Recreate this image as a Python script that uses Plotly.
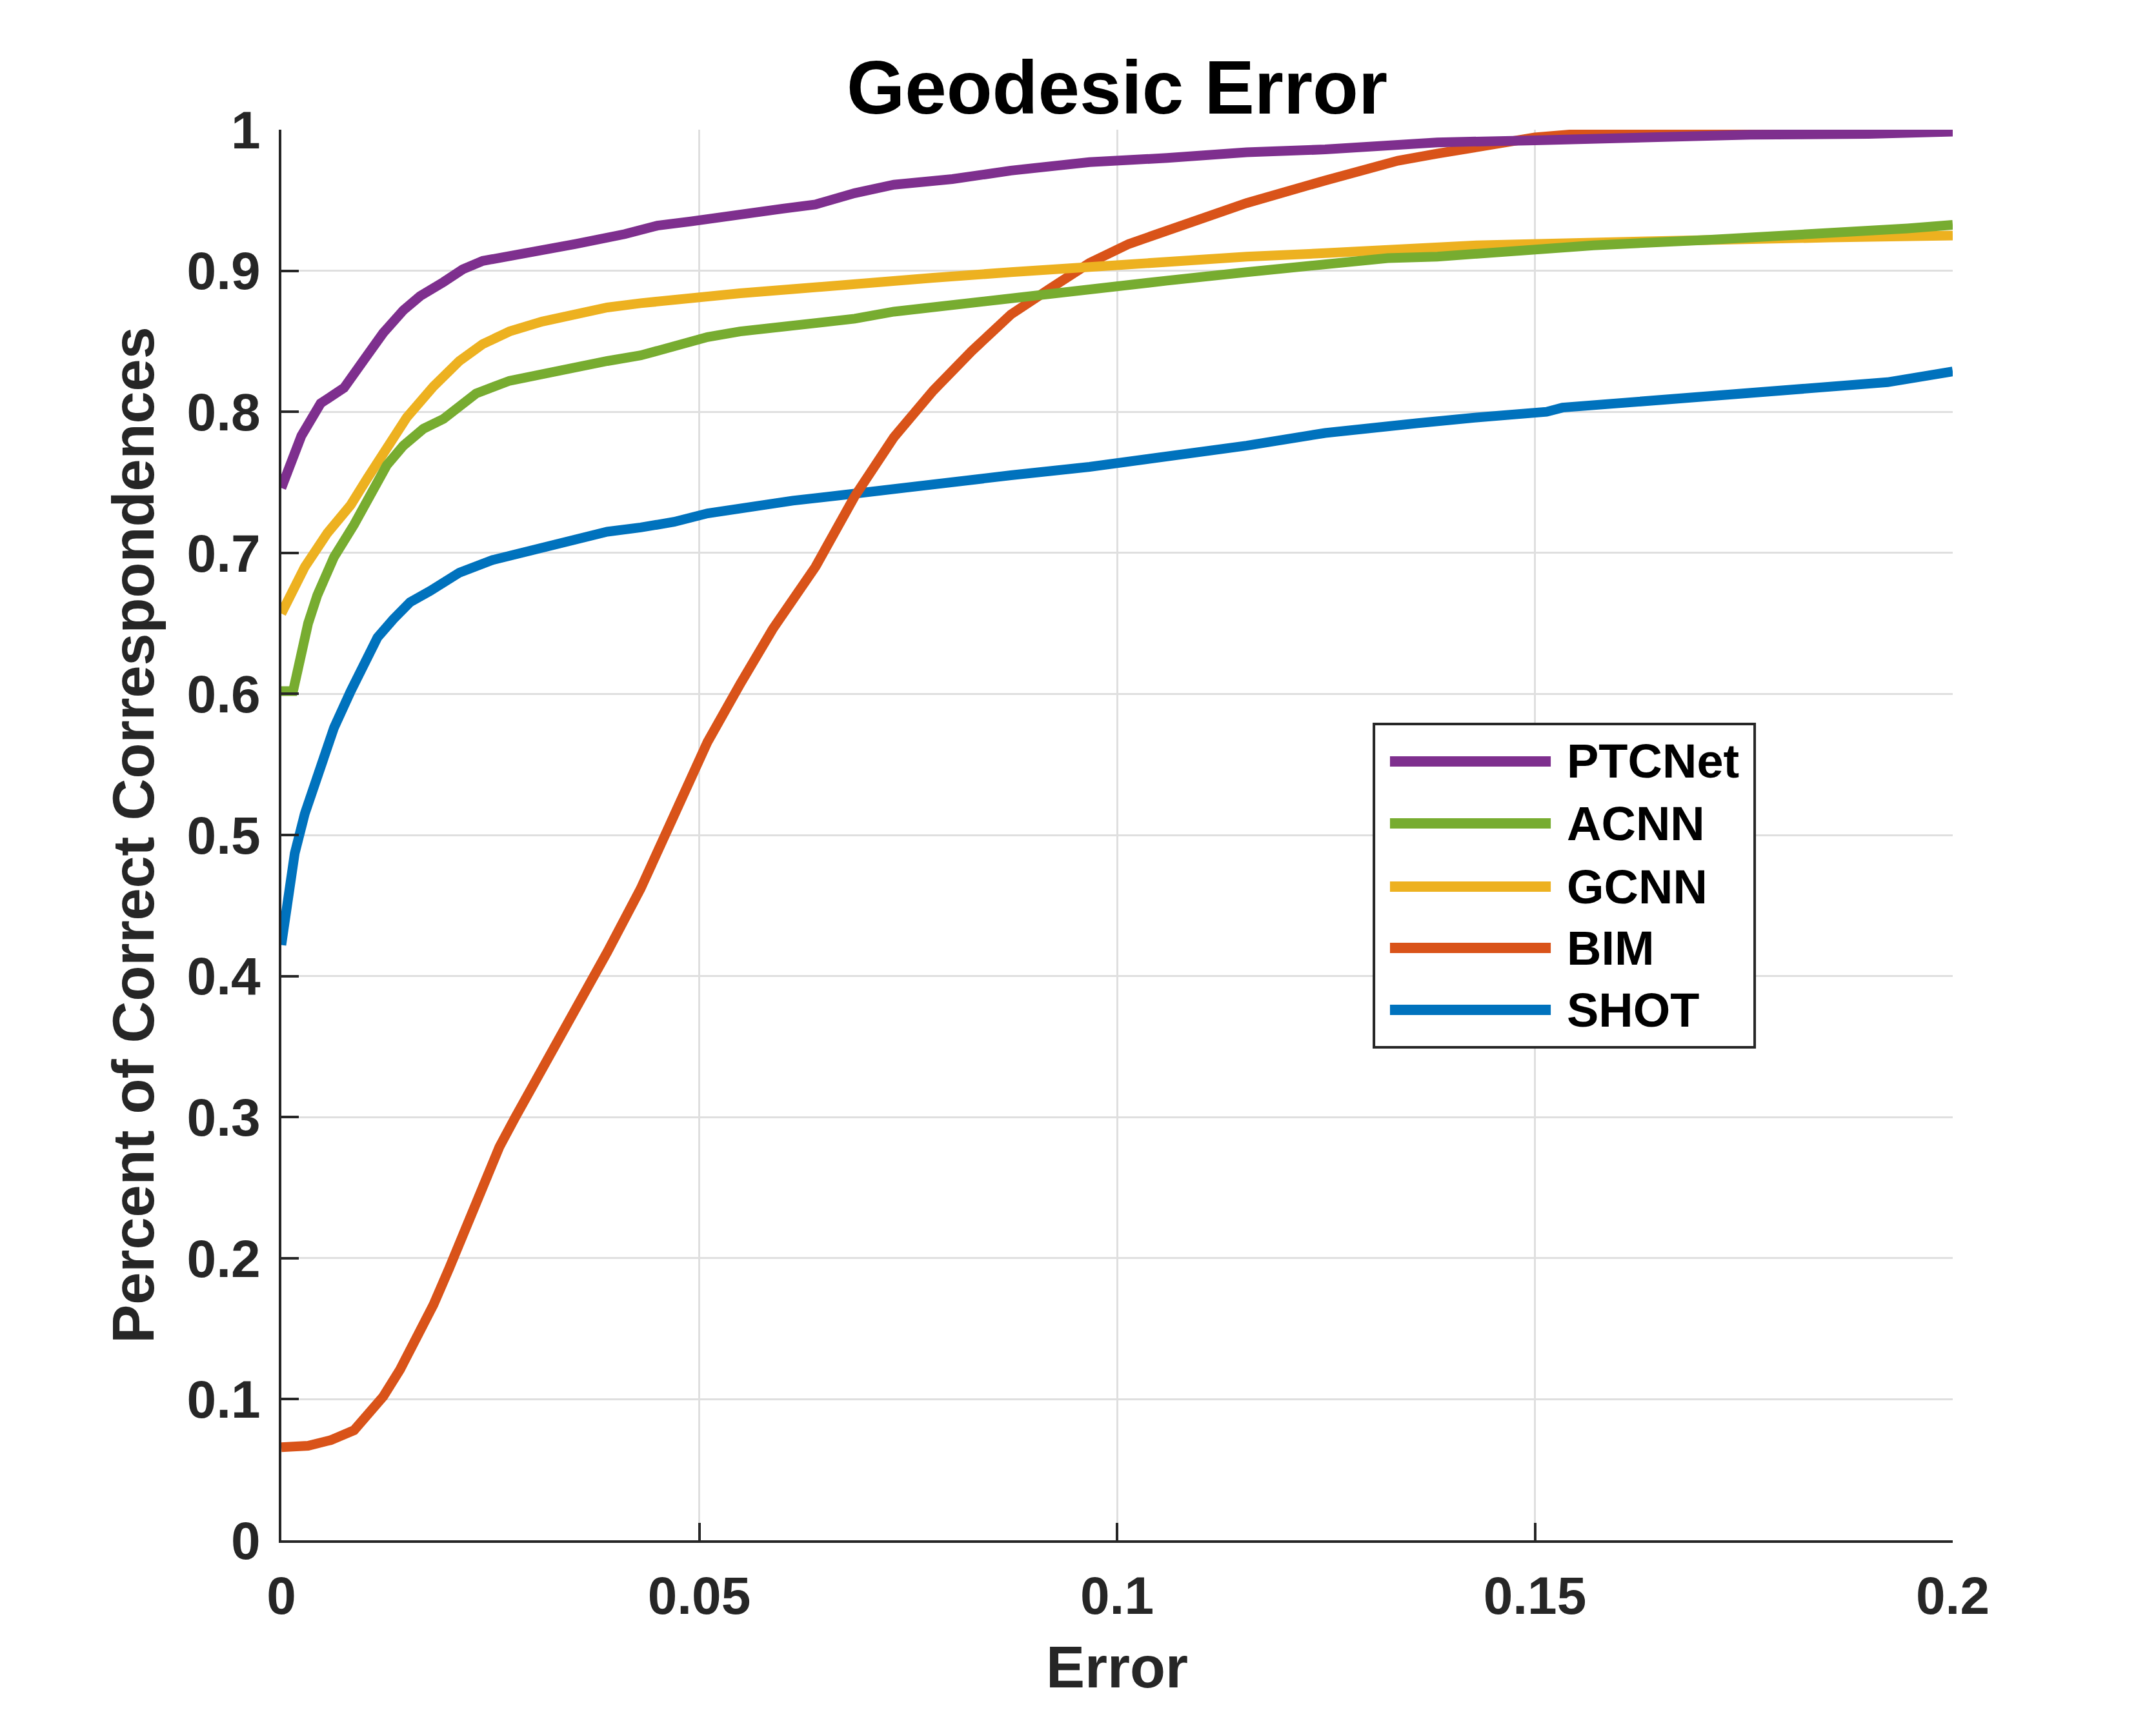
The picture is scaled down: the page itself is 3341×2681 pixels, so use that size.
import plotly.graph_objects as go

# values
ptcnet_x = [0, 0.0012, 0.0024, 0.0047, 0.0075, 0.0099, 0.0122, 0.0146, 0.0166, 0.0194, 0.0217, 0.0241,
            0.0273, 0.0312, 0.0352, 0.0411, 0.045, 0.049, 0.0549, 0.060, 0.0639, 0.0686, 0.0733, 0.0803,
            0.0873, 0.0967, 0.106, 0.1155, 0.1249, 0.1324, 0.1383, 0.150, 0.1617, 0.1758, 0.1899, 0.2]
ptcnet_y = [0.746, 0.764, 0.783, 0.806, 0.817, 0.837, 0.856, 0.872, 0.882, 0.892, 0.901, 0.907,
            0.910, 0.915, 0.919, 0.926, 0.932, 0.935, 0.939, 0.944, 0.947, 0.955, 0.961, 0.965,
            0.971, 0.977, 0.980, 0.984, 0.986, 0.989, 0.991, 0.9925, 0.9945, 0.9964, 0.997, 0.9986]

acnn_x = [0, 0.0014, 0.002, 0.0032, 0.0043, 0.0063, 0.0087, 0.011, 0.0126, 0.0146, 0.017, 0.0194,
          0.0217, 0.0233, 0.0273, 0.0312, 0.0352, 0.039, 0.043, 0.047, 0.051, 0.0549, 0.0612, 0.0639,
          0.0686, 0.0733, 0.0803, 0.0873, 0.0967, 0.106, 0.1155, 0.1249, 0.1324, 0.1383, 0.150, 0.157,
          0.1711, 0.1852, 0.1946, 0.2]
acnn_y = [0.602, 0.602, 0.618, 0.650, 0.670, 0.697, 0.720, 0.746, 0.762, 0.776, 0.788, 0.795,
          0.806, 0.813, 0.822, 0.827, 0.832, 0.836, 0.840, 0.846, 0.853, 0.857, 0.861, 0.862,
          0.866, 0.871, 0.876, 0.881, 0.8875, 0.893, 0.899, 0.905, 0.909, 0.910, 0.915, 0.918,
          0.922, 0.926, 0.930, 0.9325]

gcnn_x = [0, 0.0028, 0.0055, 0.0083, 0.0103, 0.0122, 0.015, 0.0182, 0.0213, 0.0241, 0.0273, 0.0312,
          0.0352, 0.039, 0.043, 0.049, 0.0549, 0.0612, 0.0686, 0.078, 0.0873, 0.0967, 0.106, 0.1155,
          0.1249, 0.1324, 0.143, 0.157, 0.1711, 0.1852, 0.2]
gcnn_y = [0.657, 0.690, 0.714, 0.734, 0.753, 0.771, 0.796, 0.818, 0.836, 0.848, 0.857, 0.864,
          0.870, 0.874, 0.877, 0.881, 0.884, 0.887, 0.891, 0.895, 0.899, 0.903, 0.906, 0.910,
          0.9125, 0.9145, 0.918, 0.920, 0.921, 0.9236, 0.925]

bim_x = [0, 0.0032, 0.0059, 0.0087, 0.0122, 0.0142, 0.0162, 0.0182, 0.0201, 0.0221, 0.0241, 0.0261,
         0.028, 0.0316, 0.0352, 0.039, 0.043, 0.047, 0.051, 0.0549, 0.0588, 0.0639, 0.0686, 0.0733,
         0.078, 0.0826, 0.0873, 0.092, 0.0967, 0.1014, 0.106, 0.1155, 0.1249, 0.1289, 0.1336, 0.1383,
         0.143, 0.150, 0.157, 0.1664, 0.2]
bim_y = [0.066, 0.067, 0.071, 0.078, 0.102, 0.121, 0.144, 0.167, 0.193, 0.221, 0.251, 0.279,
         0.300, 0.338, 0.378, 0.417, 0.462, 0.515, 0.566, 0.607, 0.646, 0.690, 0.740, 0.782,
         0.815, 0.843, 0.869, 0.8875, 0.9055, 0.919, 0.929, 0.948, 0.964, 0.971, 0.978, 0.983,
         0.988, 0.9945, 0.998, 1.0, 1.0]

shot_x = [0, 0.0008, 0.0016, 0.0028, 0.0043, 0.0063, 0.0083, 0.0103, 0.0115, 0.0134, 0.0154, 0.0178,
          0.0213, 0.0253, 0.0312, 0.0352, 0.039, 0.043, 0.047, 0.051, 0.0549, 0.0612, 0.0686, 0.078,
          0.0873, 0.0967, 0.106, 0.1155, 0.1249, 0.1289, 0.136, 0.143, 0.1514, 0.1533, 0.1641, 0.1758,
          0.1852, 0.1922, 0.2]
shot_y = [0.422, 0.455, 0.487, 0.515, 0.543, 0.576, 0.602, 0.625, 0.640, 0.653, 0.665, 0.673,
          0.686, 0.695, 0.704, 0.710, 0.715, 0.718, 0.722, 0.728, 0.732, 0.737, 0.742, 0.749,
          0.755, 0.761, 0.768, 0.776, 0.785, 0.788, 0.792, 0.796, 0.800, 0.803, 0.808, 0.812,
          0.8167, 0.821, 0.8286]

series_names = ['PTCNet', 'ACNN', 'GCNN', 'BIM', 'SHOT']
series_colors = ['#7E2F8E', '#77AC30', '#EDB120', '#D95319', '#0072BD']
series_x = [ptcnet_x, acnn_x, gcnn_x, bim_x, shot_x]
series_y = [ptcnet_y, acnn_y, gcnn_y, bim_y, shot_y]

x_ticks = [0, 0.05, 0.1, 0.15, 0.2]
x_tick_labels = ['0', '0.05', '0.1', '0.15', '0.2']
y_ticks = [0, 0.1, 0.2, 0.3, 0.4, 0.5, 0.6, 0.7, 0.8, 0.9, 1]
y_tick_labels = ['0', '0.1', '0.2', '0.3', '0.4', '0.5', '0.6', '0.7', '0.8', '0.9', '1']

FONT = 'Liberation Sans, Arial, sans-serif'
AX = '#262626'
GRID = '#dfdfdf'

fig = go.Figure()
# draw in reverse so PTCNet ends up on top like the original
for name, color, xs, ys in reversed(list(zip(series_names, series_colors, series_x, series_y))):
    fig.add_trace(go.Scatter(x=xs, y=ys, mode='lines', name=name,
                             line=dict(color=color, width=15), showlegend=False))

axis_common = dict(
    showline=True, linecolor=AX, linewidth=4, mirror=False,
    ticks='inside', ticklen=27, tickwidth=4, tickcolor=AX,
    showgrid=True, gridcolor=GRID, gridwidth=3, zeroline=False,
    tickfont=dict(family=FONT, size=82, color=AX, weight='bold'),
)

fig.update_xaxes(range=[0, 0.2], tickvals=x_ticks, ticktext=x_tick_labels,
                 ticklabelstandoff=12,
                 title=dict(text='Error', standoff=36,
                            font=dict(family=FONT, size=90, color=AX, weight='bold')),
                 **axis_common)
fig.update_yaxes(range=[0, 1], tickvals=y_ticks, ticktext=y_tick_labels,
                 ticklabelstandoff=12,
                 title=dict(text='Percent of Correct Correspondences', standoff=22,
                            font=dict(family=FONT, size=90, color=AX, weight='bold')),
                 **axis_common)

# legend box drawn by hand (MATLAB style long line samples)
box_x0, box_x1, box_y0, box_y1 = 0.6537, 0.8815, 0.3495, 0.5787
line_x0, line_x1, text_x = 0.6633, 0.7595, 0.7683
row_y = [0.5522, 0.5082, 0.4634, 0.4199, 0.3760]
shapes = [dict(type='rect', xref='paper', yref='paper', x0=box_x0, x1=box_x1, y0=box_y0, y1=box_y1,
               fillcolor='white', line=dict(color=AX, width=4))]
annotations = []
for name, color, ry in zip(series_names, series_colors, row_y):
    shapes.append(dict(type='line', xref='paper', yref='paper', x0=line_x0, x1=line_x1, y0=ry, y1=ry,
                       line=dict(color=color, width=16)))
    annotations.append(dict(xref='paper', yref='paper', x=text_x, y=ry, text=name, showarrow=False,
                            xanchor='left', yanchor='middle',
                            font=dict(family=FONT, size=74, color='black', weight='bold')))

fig.update_layout(
    width=3341, height=2681,
    margin=dict(l=428, r=323, t=193, b=302),
    paper_bgcolor='white', plot_bgcolor='white',
    title=dict(text='Geodesic Error', x=0.5, xref='paper', xanchor='center',
               y=1 - 127 / 2681, yref='container', yanchor='middle',
               font=dict(family=FONT, size=116, color='black', weight='bold')),
    shapes=shapes, annotations=annotations,
    showlegend=False,
)

fig.write_html('out.html')
